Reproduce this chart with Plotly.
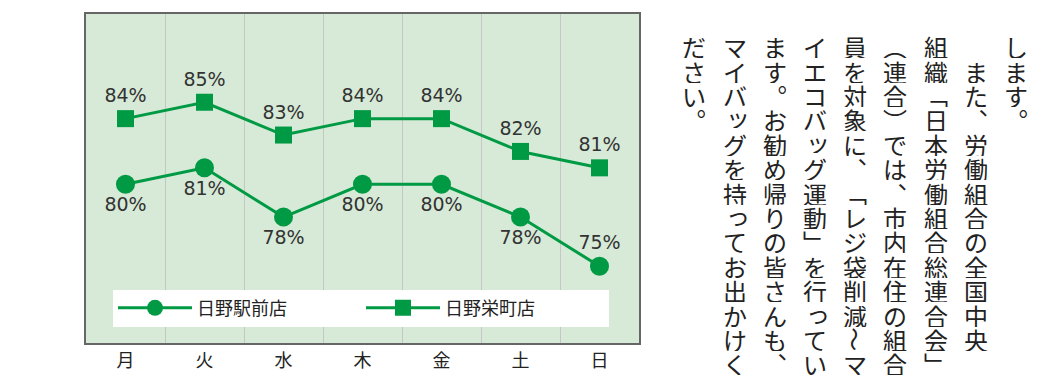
import plotly.graph_objects as go

days = ["月", "火", "水", "木", "金", "土", "日"]
ekimae = [80, 81, 78, 80, 80, 78, 75]      # 日野駅前店
sakaemachi = [84, 85, 83, 84, 84, 82, 81]  # 日野栄町店
series_names = ["日野駅前店", "日野栄町店"]

text_columns = [
    "します。",
    "　また、労働組合の全国中央",
    "組織「日本労働組合総連合会」",
    "（連合）では、市内在住の組合",
    "員を対象に、「レジ袋削減～マ",
    "イエコバッグ運動」を行ってい",
    "ます。お勧め帰りの皆さんも、",
    "マイバッグを持ってお出かけく",
    "ださい。",
]

W, H = 1045, 384
L, R, T, B = 86, 406, 14, 37
PW, PH = W - L - R, H - T - B
GREEN = "#009a44"

x = list(range(len(days)))

fig = go.Figure()
fig.add_trace(go.Scatter(
    x=x, y=ekimae, name=series_names[0], mode="lines+markers+text",
    line=dict(color=GREEN, width=3),
    marker=dict(symbol="circle", size=19, color=GREEN),
    text=[f"{v}%" for v in ekimae],
    textposition=["bottom center"] * (len(days) - 1) + ["top center"],
    textfont=dict(family="DejaVu Sans", size=19, color="#333333"),
    cliponaxis=False,
))
fig.add_trace(go.Scatter(
    x=x, y=sakaemachi, name=series_names[1], mode="lines+markers+text",
    line=dict(color=GREEN, width=3),
    marker=dict(symbol="square", size=17, color=GREEN),
    text=[f"{v}%" for v in sakaemachi],
    textposition="top center",
    textfont=dict(family="DejaVu Sans", size=19, color="#333333"),
    cliponaxis=False,
))

# vertical Japanese text (tategaki), one character per cell
vert_map = {"。": "\uFE12", "、": "\uFE11", "「": "\uFE41", "」": "\uFE42",
            "（": "\uFE35", "）": "\uFE36"}
small = set("ッっ")
col_x0, col_dx = 1016, 40.2
row_y0, row_dy = 47, 24.7
annotations = []
for ci, col in enumerate(text_columns):
    cx = col_x0 - col_dx * ci
    for ri, ch in enumerate(col):
        if ch == "　":
            continue
        cy = row_y0 + row_dy * ri
        ang = 0
        t = vert_map.get(ch, ch)
        if ch == "～":
            ang = 90
        xs = ys = 0
        if ch in small:
            xs, ys = 3, 3
        annotations.append(dict(
            x=(cx - L) / PW, y=(H - B - cy) / PH, xref="paper", yref="paper",
            text=t, showarrow=False, xanchor="center", yanchor="middle",
            textangle=ang, xshift=xs, yshift=ys,
            width=26, height=23, borderpad=0,
            font=dict(family="Noto Sans CJK JP", size=24, color="#222222"),
        ))

fig.update_layout(
    width=W, height=H,
    margin=dict(l=L, r=R, t=T, b=B),
    paper_bgcolor="white", plot_bgcolor="#d6ead7",
    showlegend=True,
    legend=dict(
        orientation="h", x=(113 - L) / PW, y=(H - B - 293) / PH,
        xanchor="left", yanchor="top",
        bgcolor="white", borderwidth=0,
        font=dict(family="Noto Sans CJK JP", size=18, color="#222222"),
        entrywidth=159, entrywidthmode="pixels", itemwidth=74,
        itemsizing="trace",
    ),
    xaxis=dict(
        range=[-0.5, len(days) - 0.5],
        tickmode="array", tickvals=x, ticktext=days,
        showgrid=False, zeroline=False,
        minor=dict(tickmode="array", tickvals=[i + 0.5 for i in x[:-1]],
                   showgrid=True, gridcolor="#c6c6c6", gridwidth=1),
        showline=True, mirror=True, linecolor="#666666", linewidth=2,
        ticks="", tickfont=dict(family="Noto Sans CJK JP", size=18, color="#222222"),
        fixedrange=True,
    ),
    yaxis=dict(
        range=[70.32, 90.38], showticklabels=False, showgrid=False, zeroline=False,
        showline=True, mirror=True, linecolor="#666666", linewidth=2, ticks="",
        fixedrange=True,
    ),
    annotations=annotations,
)

fig.write_html("out.html", config={"displayModeBar": False})
